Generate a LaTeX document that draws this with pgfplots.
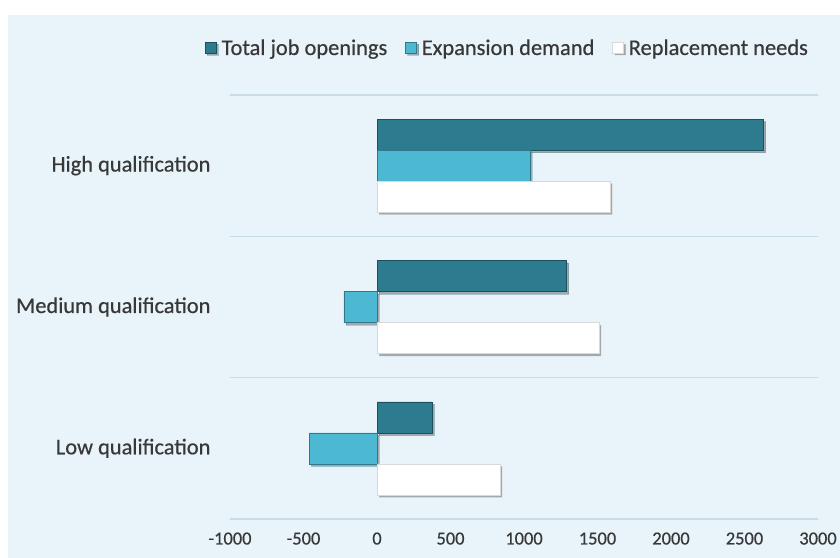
\documentclass[border=0pt]{standalone}
\usepackage{pgfplots}
\pgfplotsset{compat=1.18}
\usepackage{fontspec}
\setmainfont{Carlito}
\newfontface\lbl{Carlito}[FakeBold=0.5]
\usetikzlibrary{shadows}
\definecolor{bg}{HTML}{E8F3FA}
\definecolor{tot}{HTML}{2C7B8E}
\definecolor{expd}{HTML}{4DB8D1}
\definecolor{gridc}{HTML}{C9DBE5}
\definecolor{txt}{HTML}{383838}
\begin{document}
\begin{tikzpicture}[x=1bp,y=1bp]
\path[use as bounding box] (0,0) rectangle (840,558);
\fill[white] (0,0) rectangle (840,558);
\fill[bg] (8,0) rectangle (840,543);
\begin{axis}[
  at={(230bp,39bp)}, anchor=south west,
  scale only axis, width=588bp, height=424bp,
  xbar, bar width=31bp,
  xmin=-1000, xmax=3000, ymin=-0.5, ymax=2.5,
  xtick={-1000,-500,...,3000},
  ytick={0,1,2},
  yticklabels={Low qualification, Medium qualification, High qualification},
  minor ytick={-0.5,0.5,1.5,2.5},
  yminorgrids=true,
  minor grid style={draw=gridc, line width=1.5bp},
  axis line style={draw=none},
  major tick length=0pt, minor tick length=0pt,
  scaled x ticks=false,
  /pgf/number format/assume math mode=true,
  xticklabel style={font=\lbl\fontsize{18.5}{21}\selectfont, text=txt, /pgf/number format/1000 sep={}, yshift=-10bp},
  yticklabel style={font=\lbl\fontsize{22.5}{25}\selectfont, text=txt, xshift=-16bp},
  legend style={at={(axis description cs:0.472,1.111)}, anchor=center,
    legend columns=-1, draw=none, fill=none,
    font=\lbl\fontsize{22.5}{25}\selectfont, text=txt,
    /tikz/every even column/.append style={column sep=16bp},
    /tikz/every odd column/.append style={column sep=3bp}},
  legend image code/.code={\draw[#1] (0bp,-5bp) rectangle (11bp,6bp);},
]
\addplot[fill=tot, draw=tot!65!black, bar shift=31bp,
  drop shadow={shadow xshift=2bp, shadow yshift=-2.5bp, fill=black, opacity=0.3}]
  coordinates {(375,0) (1290,1) (2630,2)};
\addplot[fill=expd, draw=expd!65!black, bar shift=0bp,
  drop shadow={shadow xshift=2bp, shadow yshift=-2.5bp, fill=black, opacity=0.3}]
  coordinates {(-460,0) (-225,1) (1040,2)};
\addplot[fill=white, draw=black!15, bar shift=-31bp,
  drop shadow={shadow xshift=2bp, shadow yshift=-2.5bp, fill=black, opacity=0.3}]
  coordinates {(835,0) (1510,1) (1585,2)};
\legend{Total job openings, Expansion demand, Replacement needs}
\end{axis}
\end{tikzpicture}
\end{document}
